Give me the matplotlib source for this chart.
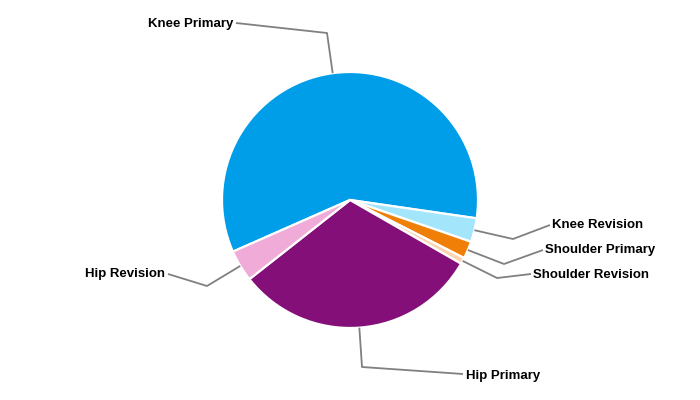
import numpy as np
import matplotlib.pyplot as plt

labels = ["Knee Primary", "Knee Revision", "Shoulder Primary",
          "Shoulder Revision", "Hip Primary", "Hip Revision"]
values = [58.9, 3.0, 2.2, 0.8, 31.1, 4.0]
colors = ["#009ee9", "#a3e5fb", "#f07f08", "#fdd4b0", "#840f79", "#f0abd9"]

# label layout in pixels: (elbow, line end, text anchor, ha)
label_pos = {
    "Knee Primary": ((327, 33), (236, 23), (233, 23.5), "right"),
    "Knee Revision": ((513, 239), (550, 225), (552, 225.5), "left"),
    "Shoulder Primary": ((504, 264), (543, 250), (545, 250.5), "left"),
    "Shoulder Revision": ((497, 278), (531, 274), (533, 274.5), "left"),
    "Hip Primary": ((362, 367), (463, 374), (466, 375.5), "left"),
    "Hip Revision": ((207, 286), (168, 274), (165, 274.5), "right"),
}

W, H = 700, 400
cx, cy, r = 350, 200, 128
start = 203.8

fig = plt.figure(figsize=(7, 4), dpi=100)
ax = fig.add_axes([0, 0, 1, 1])

wedges, _ = ax.pie(values, colors=colors, startangle=start, counterclock=False,
                   center=(cx, H - cy), radius=r,
                   wedgeprops=dict(edgecolor="white", linewidth=1.6))

# pie() resets the limits, so set them afterwards
ax.set_xlim(0, W)
ax.set_ylim(0, H)
ax.set_aspect("equal")
ax.axis("off")

for w, lab in zip(wedges, labels):
    mid = np.deg2rad((w.theta1 + w.theta2) / 2)
    p0 = (cx + r * np.cos(mid), H - cy + r * np.sin(mid))
    elbow, end, txt, ha = label_pos[lab]
    xs = [p0[0], elbow[0], end[0]]
    ys = [p0[1], H - elbow[1], H - end[1]]
    ax.plot(xs, ys, color="#808080", lw=1.3, solid_capstyle="butt")
    ax.text(txt[0], H - txt[1], lab, ha=ha, va="center", fontsize=9.5,
            fontweight="bold", family="Liberation Sans", color="black")

fig.savefig("out.png", dpi=100)
